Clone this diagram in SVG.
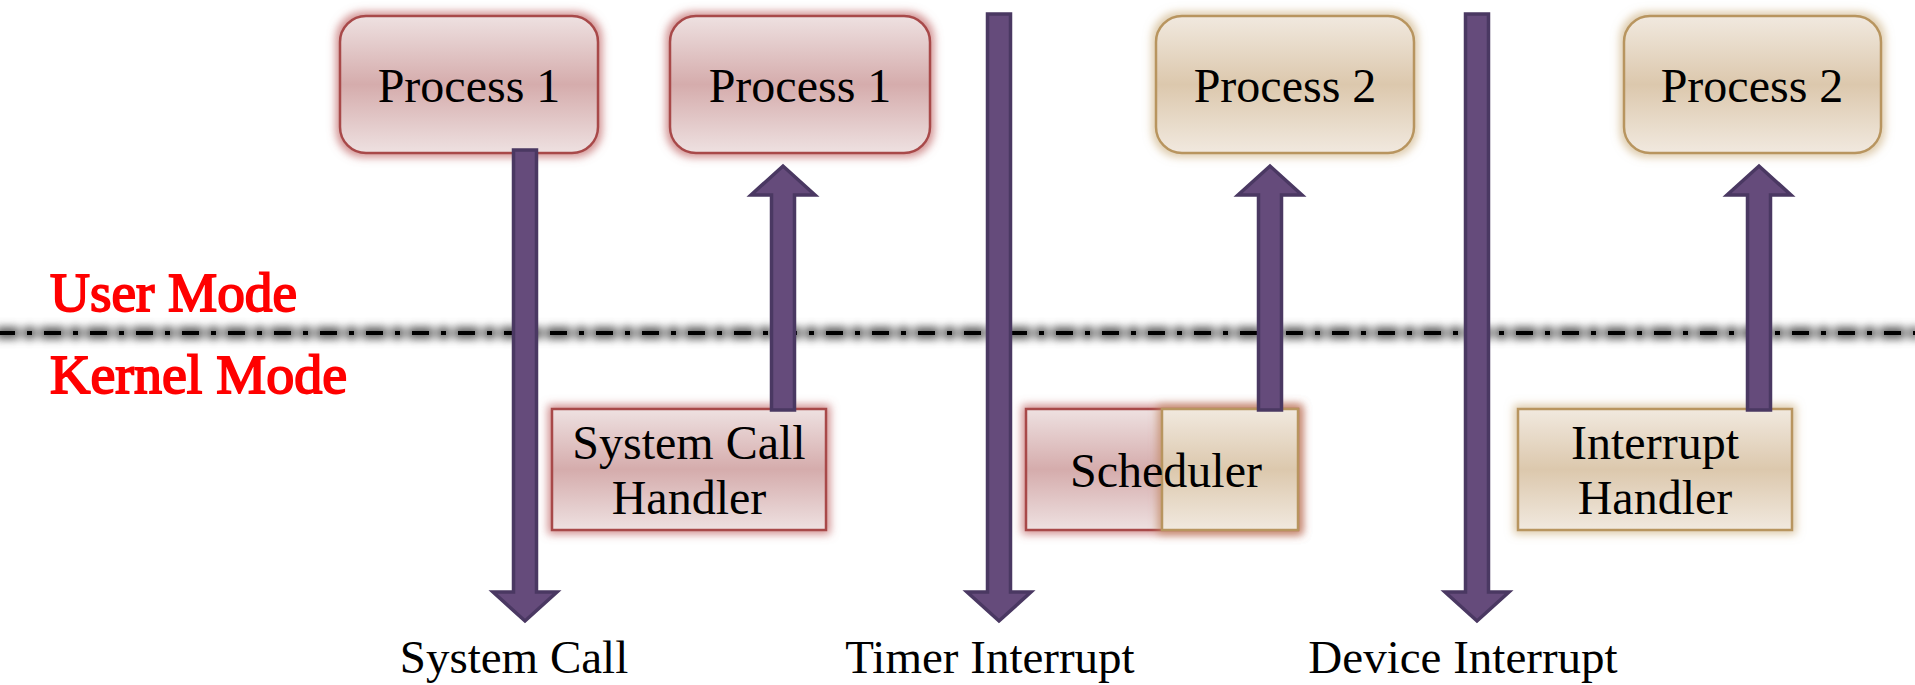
<svg xmlns="http://www.w3.org/2000/svg" width="1915" height="685" viewBox="0 0 1915 685">
<defs>
<linearGradient id="gRed" x1="0" y1="0" x2="0" y2="1">
<stop offset="0" stop-color="#eee1e1"/>
<stop offset="0.5" stop-color="#d5acac"/>
<stop offset="1" stop-color="#eee1e1"/>
</linearGradient>
<linearGradient id="gTan" x1="0" y1="0" x2="0" y2="1">
<stop offset="0" stop-color="#f1e9df"/>
<stop offset="0.5" stop-color="#dcc8ad"/>
<stop offset="1" stop-color="#f1e9df"/>
</linearGradient>
<filter id="glowR" x="-20%" y="-20%" width="140%" height="140%">
<feMorphology in="SourceAlpha" operator="dilate" radius="3" result="d"/>
<feGaussianBlur in="d" stdDeviation="4" result="b"/>
<feFlood flood-color="#c26b6b" flood-opacity="0.75"/>
<feComposite in2="b" operator="in" result="g"/>
<feMerge><feMergeNode in="g"/><feMergeNode in="SourceGraphic"/></feMerge>
</filter>
<filter id="glowT" x="-20%" y="-20%" width="140%" height="140%">
<feMorphology in="SourceAlpha" operator="dilate" radius="3" result="d"/>
<feGaussianBlur in="d" stdDeviation="4" result="b"/>
<feFlood flood-color="#d2b98f" flood-opacity="0.75"/>
<feComposite in2="b" operator="in" result="g"/>
<feMerge><feMergeNode in="g"/><feMergeNode in="SourceGraphic"/></feMerge>
</filter>
<filter id="glowO" x="-20%" y="-20%" width="140%" height="140%">
<feMorphology in="SourceAlpha" operator="dilate" radius="3" result="d"/>
<feGaussianBlur in="d" stdDeviation="4" result="b"/>
<feFlood flood-color="#c38a66" flood-opacity="0.8"/>
<feComposite in2="b" operator="in" result="g"/>
<feMerge><feMergeNode in="g"/><feMergeNode in="SourceGraphic"/></feMerge>
</filter>
<filter id="halo" filterUnits="userSpaceOnUse" x="-20" y="305" width="1955" height="56">
<feMorphology in="SourceAlpha" operator="dilate" radius="4" result="d"/>
<feGaussianBlur in="d" stdDeviation="4" result="b"/>
<feFlood flood-color="#5a5a5a" flood-opacity="1"/>
<feComposite in2="b" operator="in" result="g"/>
<feMerge><feMergeNode in="g"/><feMergeNode in="SourceGraphic"/></feMerge>
</filter>
<style>
.red{fill:url(#gRed);stroke:#a8494a;stroke-width:2.5;filter:url(#glowR)}
.tan{fill:url(#gTan);stroke:#b8955f;stroke-width:2.5;filter:url(#glowT)}
.tanO{fill:url(#gTan);stroke:#b8955f;stroke-width:2.5;filter:url(#glowO)}
.lbl{font-family:"Liberation Serif","Times New Roman",serif;font-size:48px;fill:#000;text-anchor:middle}
.bot{font-family:"Liberation Serif","Times New Roman",serif;font-size:47px;fill:#000;text-anchor:middle}
.mode{font-family:"Liberation Serif","Times New Roman",serif;font-size:54px;font-weight:normal;fill:#ff0000;stroke:#ff0000;stroke-width:1.8}
.arr{fill:#654b7b;stroke:#4a3862;stroke-width:3.5;stroke-linejoin:miter}
</style>
</defs>
<rect width="1915" height="685" fill="#ffffff"/>

<g id="mode-divider" filter="url(#halo)">
<line x1="0" y1="333" x2="1915" y2="333" stroke="#000" stroke-width="4" stroke-dasharray="17 12 5 12" stroke-dashoffset="2"/>
</g>
<g id="mode-labels">
<text class="mode" x="50" y="311" textLength="247" lengthAdjust="spacingAndGlyphs">User Mode</text>
<text class="mode" x="50" y="393" textLength="297" lengthAdjust="spacingAndGlyphs">Kernel Mode</text>
</g>

<g id="process1-a">
<rect class="red" x="340" y="16" width="258" height="137" rx="26"/>
<text class="lbl" x="469" y="102">Process 1</text>
</g>
<g id="process1-b">
<rect class="red" x="670" y="16" width="260" height="137" rx="26"/>
<text class="lbl" x="800" y="102">Process 1</text>
</g>
<g id="process2-a">
<rect class="tan" x="1156" y="16" width="258" height="137" rx="26"/>
<text class="lbl" x="1285" y="102">Process 2</text>
</g>
<g id="process2-b">
<rect class="tan" x="1624" y="16" width="257" height="137" rx="26"/>
<text class="lbl" x="1752" y="102">Process 2</text>
</g>
<g id="syscall-handler">
<rect class="red" x="552" y="409" width="274" height="121"/>
<text class="lbl" x="689" y="459">System Call</text>
<text class="lbl" x="689" y="514">Handler</text>
</g>
<g id="scheduler">
<rect class="red" x="1026" y="409" width="272" height="121"/>
<rect class="tanO" x="1162" y="409" width="136" height="121"/>
<text class="lbl" x="1166" y="487">Scheduler</text>
</g>
<g id="interrupt-handler">
<rect class="tan" x="1518" y="409" width="274" height="121"/>
<text class="lbl" x="1655" y="459">Interrupt</text>
<text class="lbl" x="1655" y="514">Handler</text>
</g>

<g id="connectors">
<path class="arr" d="M513.5 150 H536.5 V592 H557 L525 621 L493 592 H513.5 Z"/>
<path class="arr" d="M771.5 410 H794.5 V195 H815 L783 166 L751 195 H771.5 Z"/>
<path class="arr" d="M987.5 14 H1010.5 V592 H1031 L999 621 L967 592 H987.5 Z"/>
<path class="arr" d="M1258.5 410 H1281.5 V195 H1302 L1270 166 L1238 195 H1258.5 Z"/>
<path class="arr" d="M1465.5 14 H1488.5 V592 H1509 L1477 621 L1445 592 H1465.5 Z"/>
<path class="arr" d="M1747.5 410 H1770.5 V195 H1791 L1759 166 L1727 195 H1747.5 Z"/>
</g>

<g id="event-labels">
<text class="bot" x="514" y="673">System Call</text>
<text class="bot" x="990" y="673">Timer Interrupt</text>
<text class="bot" x="1463" y="673">Device Interrupt</text>
</g>
</svg>
